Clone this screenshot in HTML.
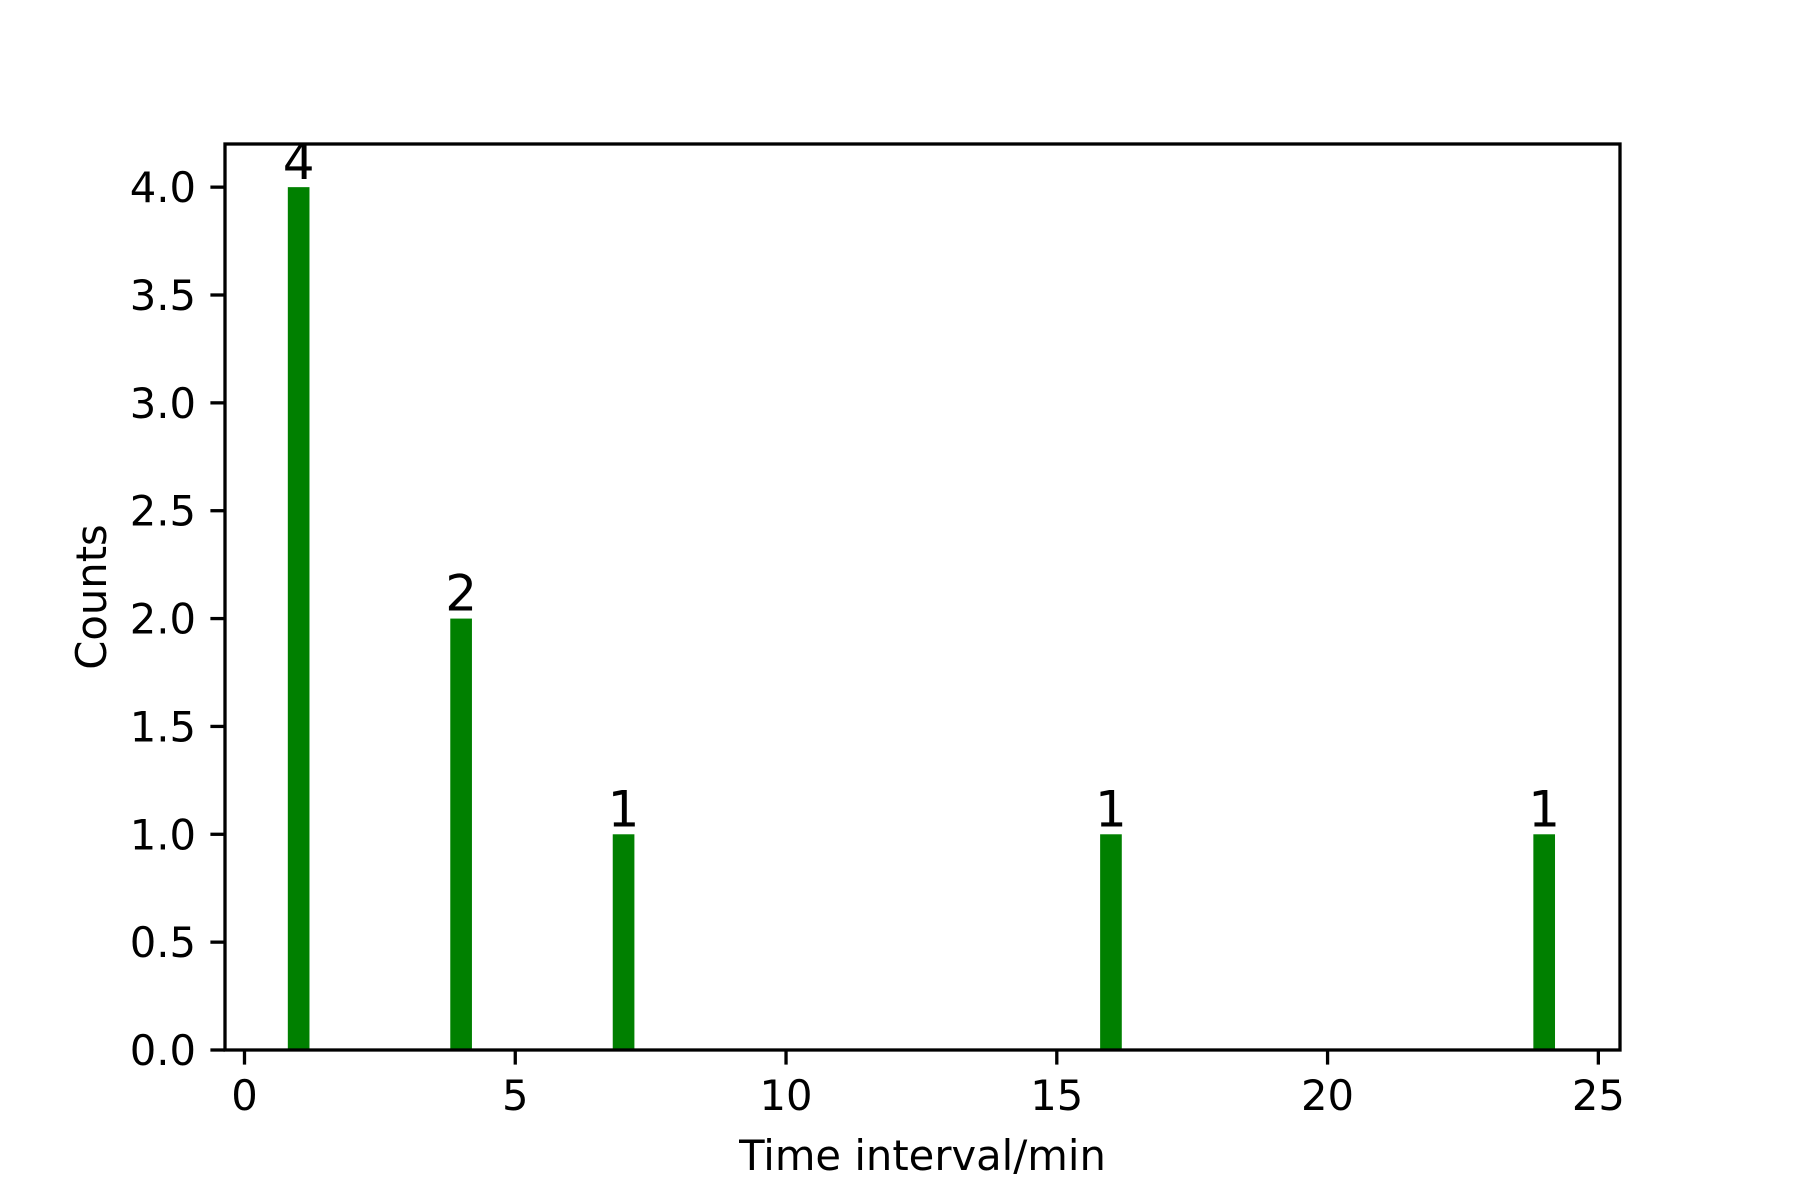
<!DOCTYPE html>
<html><head><meta charset="utf-8"><style>
html,body{margin:0;padding:0;background:#fff;}
svg{display:block;font-family:"DejaVu Sans","Liberation Sans",sans-serif;}
</style></head><body>
<svg id="chart" width="1800" height="1200" viewBox="0 0 1800 1200" xmlns="http://www.w3.org/2000/svg">
<rect width="1800" height="1200" fill="#fff"/>
</svg>
<script>
const categories = [1, 4, 7, 16, 24];
const counts = [4, 2, 1, 1, 1];
const xTicks = [0, 5, 10, 15, 20, 25];
const yTicks = [0, 0.5, 1, 1.5, 2, 2.5, 3, 3.5, 4];
const yTickLabels = ["0.0","0.5","1.0","1.5","2.0","2.5","3.0","3.5","4.0"];

const L=225,R=1620,T=144,B=1050;
const xMin=-0.36,xMax=25.4,yMin=0,yMax=4.2,barW=0.4;
const sx=v=>L+(v-xMin)/(xMax-xMin)*(R-L);
const sy=v=>B-(v-yMin)/(yMax-yMin)*(B-T);
const svg=document.getElementById('chart');
const NS='http://www.w3.org/2000/svg';
function mk(tag,attrs,parent){const e=document.createElementNS(NS,tag);for(const k in attrs)e.setAttribute(k,attrs[k]);(parent||svg).appendChild(e);return e;}

categories.forEach((c,i)=>{
  const x0=sx(c-barW/2),x1=sx(c+barW/2);
  const r=mk('rect',{x:x0,y:sy(counts[i]),width:x1-x0,height:sy(0)-sy(counts[i]),fill:'#008000'});
  
  
  const t=mk('text',{x:sx(c),y:sy(counts[i])-8,'text-anchor':'middle','font-size':'50'});
  t.textContent=counts[i];
  
  
});

const frame=mk('rect',{x:L,y:T,width:R-L,height:B-T,fill:'none',stroke:'#000','stroke-width':3.3});



xTicks.forEach(v=>{
  const x=sx(v);
  mk('line',{x1:x,x2:x,y1:B,y2:B+14.6,stroke:'#000','stroke-width':3.3});
  const t=mk('text',{x:x,y:B+60,'text-anchor':'middle','font-size':'41.7'});
  t.textContent=v;
  
  
});
yTicks.forEach((v,i)=>{
  const y=sy(v);
  mk('line',{x1:L-14.6,x2:L,y1:y,y2:y,stroke:'#000','stroke-width':3.3});
  const t=mk('text',{x:L-29,y:y+15,'text-anchor':'end','font-size':'41.7'});
  t.textContent=yTickLabels[i];
  
  
});

const xl=mk('text',{x:(L+R)/2,y:1170,'text-anchor':'middle','font-size':'41.7'});
xl.textContent='Time interval/min';


const yl=mk('text',{x:0,y:0,'text-anchor':'middle','font-size':'41.7',transform:'translate(106,'+((T+B)/2)+') rotate(-90)'});
yl.textContent='Counts';


</script>
</body></html>
